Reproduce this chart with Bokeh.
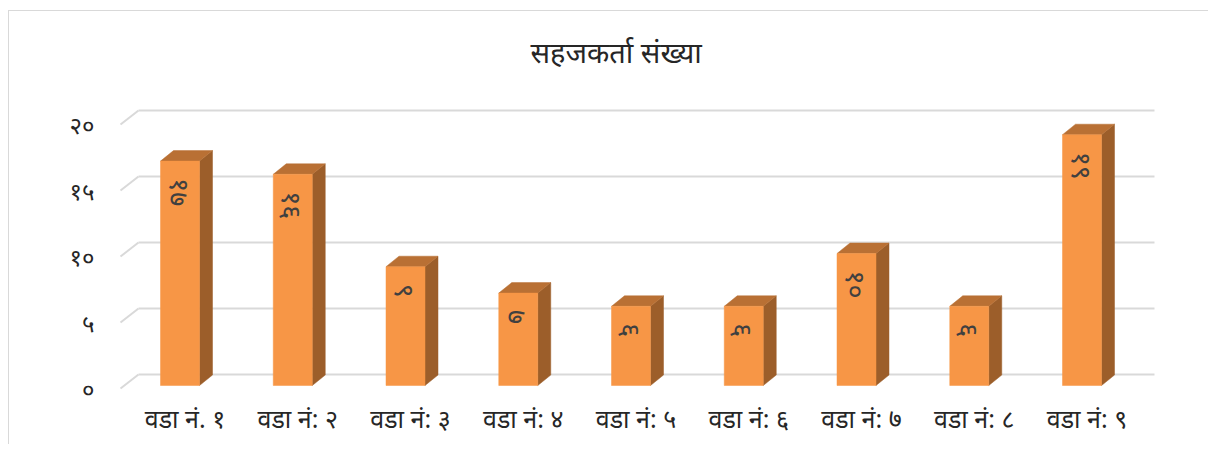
import math
from bokeh.plotting import figure
from bokeh.models import Range1d, FixedTicker, CustomJSTickFormatter, ColumnDataSource
from bokeh.core.properties import value
from bokeh.embed import file_html
from bokeh.resources import INLINE

# ---------------- data ----------------
title_text = "सहजकर्ता संख्या"
wards = ["वडा नं. १", "वडा नं: २", "वडा नं: ३", "वडा नं: ४", "वडा नं: ५",
         "वडा नं: ६", "वडा नं: ७", "वडा नं: ८", "वडा नं: ९"]
counts = [17, 16, 9, 7, 6, 6, 10, 6, 19]
count_labels = ["१७", "१६", "९", "७", "६", "६", "१०", "६", "१९"]
y_ticks = [0, 5, 10, 15, 20]
y_tick_labels = ["०", "५", "१०", "१५", "२०"]

# ---------------- layout (pixels) ----------------
FONT = "Noto Sans"
W, H = 1200, 434
ORIG_X, ORIG_Y = 9, 11            # page position of canvas
FR_L, FR_R, FR_T, FR_B = 100, 1170, 90, 392   # page position of frame
CAT0_PX = 179.5                    # page x of first bar centre
PX_X = 112.75                      # pixels per category
ZERO_PX = 385.0                    # page y of value 0 (bar front)
PX_Y = 13.2                        # pixels per unit

def dx(px):
    return px / PX_X

def dy(px):
    return px / PX_Y

x_start = (FR_L - CAT0_PX) / PX_X
x_end = (FR_R - CAT0_PX) / PX_X
y_start = (ZERO_PX - FR_B) / PX_Y
y_end = (ZERO_PX - FR_T) / PX_Y

bar_w = dx(39)
bar_ddx = dx(13)
bar_ddy = dy(10.5)
grid_front = -dy(3)
grid_back = dy(11)
grid_xa = (120 - CAT0_PX) / PX_X
grid_xb = (138 - CAT0_PX) / PX_X
grid_xe = (1154 - CAT0_PX) / PX_X
label_shift = dx(5)

p = figure(width=W, height=H, output_backend="svg", toolbar_location=None,
           x_range=Range1d(x_start, x_end), y_range=Range1d(y_start, y_end),
           min_border_left=FR_L - ORIG_X, min_border_right=ORIG_X + W - FR_R,
           min_border_top=FR_T - ORIG_Y, min_border_bottom=ORIG_Y + H - FR_B,
           background_fill_color="white", border_fill_color="white")
p.styles = {"margin-top": "10px", "margin-left": "8px",
            "border-top": "1px solid #D9D9D9", "border-left": "1px solid #D9D9D9"}
p.outline_line_color = None
p.xgrid.visible = False
p.ygrid.visible = False

# title
p.title.text = title_text
p.title.align = "left"
p.title.vertical_align = "top"
p.title.offset = 530 - FR_L
p.title.text_font = FONT
p.title.text_font_size = "29px"
p.title.text_font_style = "normal"
p.title.text_color = "#262626"
p.title.standoff = 35

# gridlines with 3D slant
gx0, gy0, gx1, gy1 = [], [], [], []
for v in y_ticks:
    gx0 += [grid_xa, grid_xb]
    gy0 += [v + grid_front, v + grid_back]
    gx1 += [grid_xb, grid_xe]
    gy1 += [v + grid_back, v + grid_back]
p.segment(gx0, gy0, gx1, gy1, line_color="#D9D9D9", line_width=2)

# bars
idx = list(range(len(counts)))
front_l = [i - bar_w / 2 for i in idx]
front_r = [i + bar_w / 2 for i in idx]
side_xs = [[r, r + bar_ddx, r + bar_ddx, r] for r in front_r]
side_ys = [[0, bar_ddy, c + bar_ddy, c] for c in counts]
top_xs = [[l, r, r + bar_ddx, l + bar_ddx] for l, r in zip(front_l, front_r)]
top_ys = [[c, c, c + bar_ddy, c + bar_ddy] for c in counts]

p.patches(side_xs, side_ys, fill_color="#9C5E2A", line_color="#9C5E2A", line_width=0.5)
p.patches(top_xs, top_ys, fill_color="#B97034", line_color="#B97034", line_width=0.5)
src = ColumnDataSource(dict(x=idx, l=front_l, r=front_r, top=counts, lab=count_labels))
p.quad(left="l", right="r", bottom=0, top="top", source=src,
       fill_color="#F79646", line_color="#F79646", line_width=0.5)

# data labels inside bars (rotated)
p.text(x="x", y="top", text="lab", source=src, angle=-math.pi / 2,
       text_align="left", text_baseline="middle", y_offset=17,
       text_font=value(FONT), text_font_size="27px", text_color="#404040")

# axes
p.yaxis.ticker = FixedTicker(ticks=[v + grid_front for v in y_ticks])
p.yaxis.formatter = CustomJSTickFormatter(
    args=dict(labels=y_tick_labels, off=grid_front, step=5),
    code="return labels[Math.round((tick - off) / step)];")
p.xaxis.ticker = FixedTicker(ticks=[i + label_shift for i in idx])
p.xaxis.formatter = CustomJSTickFormatter(
    args=dict(labels=wards, shift=label_shift),
    code="return labels[Math.round(tick - shift)];")
for ax in (p.xaxis[0], p.yaxis[0]):
    ax.axis_line_color = None
    ax.major_tick_line_color = None
    ax.minor_tick_line_color = None
    ax.major_label_text_font = FONT
    ax.major_label_text_color = "#262626"
p.yaxis.major_label_text_font_size = "24px"
p.yaxis.major_label_standoff = 0
p.xaxis.major_label_text_font_size = "25px"
p.xaxis.major_label_standoff = 2

open("out.html", "w").write(file_html(p, INLINE))
